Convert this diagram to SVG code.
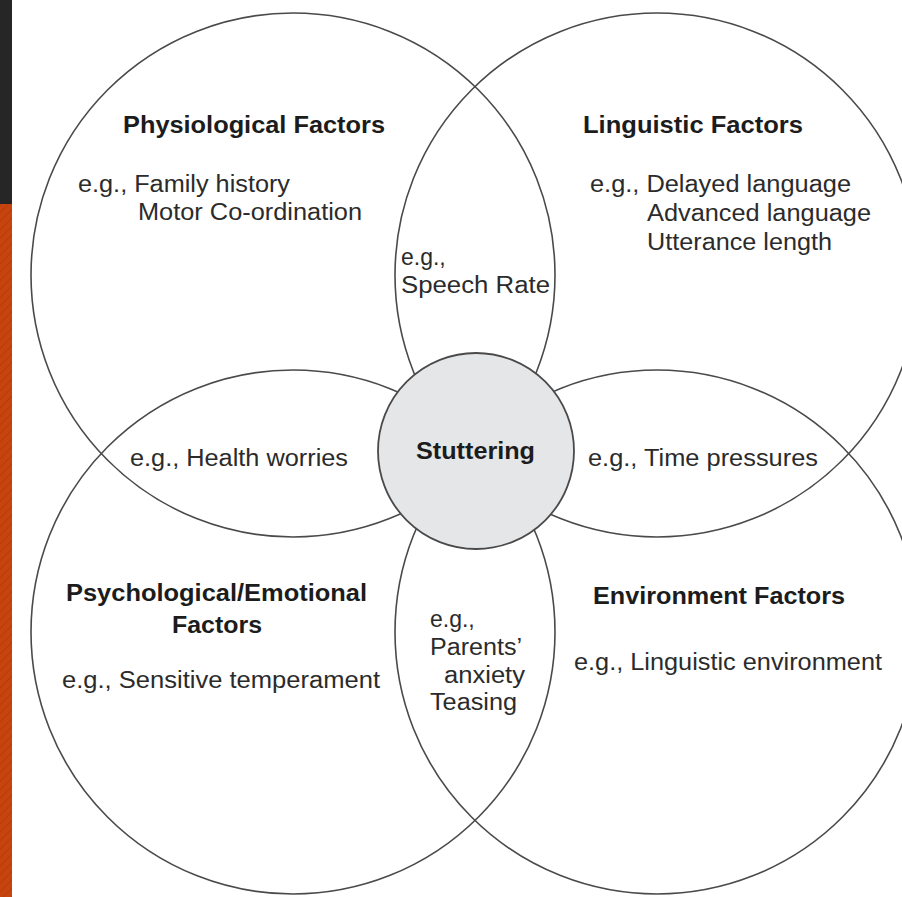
<svg xmlns="http://www.w3.org/2000/svg" width="902" height="897" viewBox="0 0 902 897">
  <style>
    .ring { fill: none; stroke: #4a4a4a; stroke-width: 1.6; }
    .core { fill: #e5e6e7; stroke: #4a4a4a; stroke-width: 1.8; }
    .t { font-family: "Liberation Sans", Arial, sans-serif; font-size: 23px; fill: #2b2b2b; }
    .b { font-family: "Liberation Sans", Arial, sans-serif; font-size: 23px; font-weight: bold; fill: #1c1c1c; }
  </style>
  <defs>
    <pattern id="hatch" width="6" height="6" patternUnits="userSpaceOnUse" patternTransform="rotate(45)">
      <rect width="6" height="6" fill="#c8440e"/>
      <line x1="0" y1="0" x2="0" y2="6" stroke="#b53c0a" stroke-width="2"/>
    </pattern>
  </defs>
  <rect x="0" y="0" width="902" height="897" fill="#ffffff"/>
  <rect x="0" y="0" width="12" height="204" fill="#262626"/>
  <rect x="0" y="204" width="12" height="693" fill="url(#hatch)"/>

  <g id="physiological">
    <circle class="ring" cx="293" cy="275" r="262"/>
    <text class="b" x="123" y="133" textLength="262" lengthAdjust="spacingAndGlyphs">Physiological Factors</text>
    <text class="t" x="78" y="192" textLength="212" lengthAdjust="spacingAndGlyphs">e.g., Family history</text>
    <text class="t" x="138" y="220" textLength="224" lengthAdjust="spacingAndGlyphs">Motor Co-ordination</text>
  </g>

  <g id="linguistic">
    <circle class="ring" cx="657" cy="275" r="262"/>
    <text class="b" x="583" y="133" textLength="220" lengthAdjust="spacingAndGlyphs">Linguistic Factors</text>
    <text class="t" x="590" y="192" textLength="261" lengthAdjust="spacingAndGlyphs">e.g., Delayed language</text>
    <text class="t" x="647" y="221" textLength="224" lengthAdjust="spacingAndGlyphs">Advanced language</text>
    <text class="t" x="647" y="250" textLength="185" lengthAdjust="spacingAndGlyphs">Utterance length</text>
  </g>

  <g id="psychological">
    <circle class="ring" cx="293" cy="632" r="262"/>
    <text class="b" x="66" y="601" textLength="301" lengthAdjust="spacingAndGlyphs">Psychological/Emotional</text>
    <text class="b" x="172" y="633" textLength="90" lengthAdjust="spacingAndGlyphs">Factors</text>
    <text class="t" x="62" y="688" textLength="318" lengthAdjust="spacingAndGlyphs">e.g., Sensitive temperament</text>
  </g>

  <g id="environment">
    <circle class="ring" cx="657" cy="632" r="262"/>
    <text class="b" x="593" y="604" textLength="252" lengthAdjust="spacingAndGlyphs">Environment Factors</text>
    <text class="t" x="574" y="670" textLength="308" lengthAdjust="spacingAndGlyphs">e.g., Linguistic environment</text>
  </g>

  <g id="overlap-top">
    <text class="t" x="401" y="265">e.g.,</text>
    <text class="t" x="401" y="293" textLength="149" lengthAdjust="spacingAndGlyphs">Speech Rate</text>
  </g>

  <g id="overlap-left">
    <text class="t" x="130" y="466" textLength="218" lengthAdjust="spacingAndGlyphs">e.g., Health worries</text>
  </g>

  <g id="overlap-right">
    <text class="t" x="588" y="466" textLength="230" lengthAdjust="spacingAndGlyphs">e.g., Time pressures</text>
  </g>

  <g id="overlap-bottom">
    <text class="t" x="430" y="627">e.g.,</text>
    <text class="t" x="430" y="655" textLength="92" lengthAdjust="spacingAndGlyphs">Parents’</text>
    <text class="t" x="444" y="683" textLength="81" lengthAdjust="spacingAndGlyphs">anxiety</text>
    <text class="t" x="430" y="710" textLength="87" lengthAdjust="spacingAndGlyphs">Teasing</text>
  </g>

  <g id="stuttering">
    <circle class="core" cx="476" cy="451" r="98"/>
    <text class="b" x="416" y="459" textLength="119" lengthAdjust="spacingAndGlyphs">Stuttering</text>
  </g>
</svg>
